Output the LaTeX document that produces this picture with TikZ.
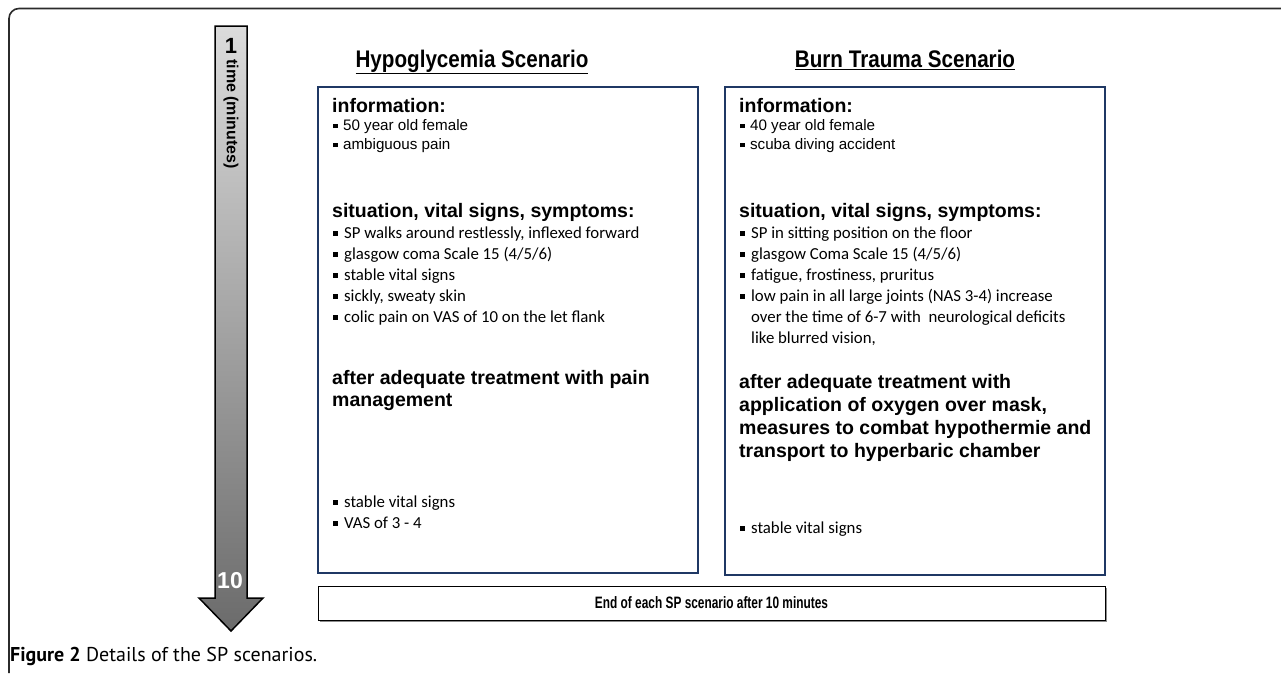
\documentclass[tikz,border=0pt]{standalone}
\usepackage{fontspec}
\setmainfont{Liberation Sans}
\newfontfamily\narrowbold[FakeStretch=0.86]{Liberation Sans Bold}
\newfontfamily\narrowboldx[FakeStretch=0.72]{Liberation Sans Bold}
\newfontfamily\calib{Carlito}
\newfontfamily\capfont{PT Sans}
\definecolor{boxblue}{HTML}{1F3864}
\definecolor{framegray}{HTML}{2B2B2B}
\newcommand{\bul}{\rule[0.12em]{0.3em}{0.3em}\hspace{0.35em}}
\tikzset{
  bhead/.style={anchor=base west, inner sep=0pt, font=\bfseries\fontsize{19.5}{22}\selectfont},
  aline/.style={anchor=base west, inner sep=0pt, font=\fontsize{15.2}{18}\selectfont},
  cline/.style={anchor=base west, inner sep=0pt, font=\calib\fontsize{16.8}{20}\selectfont},
  title/.style={inner sep=0pt, font=\narrowbold\fontsize{24}{26}\selectfont},
  scen/.style={draw=boxblue, line width=1.5pt, inner sep=0pt},
}
\begin{document}
\begin{tikzpicture}[x=1pt,y=-1pt]
\useasboundingbox (0,0) rectangle (1281,673);
% outer frame
\draw[framegray, line width=1.6pt, rounded corners=10pt] (9,673) -- (9,8.5) -- (1281,8.5);
% time arrow
\shade[top color=black!14, bottom color=black!58] (215,26) -- (247,26) -- (247,598) -- (263,598) -- (231,631) -- (199,598) -- (215,598) -- cycle;
\draw[black, line width=1.5pt, line join=miter] (215,26) -- (247,26) -- (247,598) -- (263,598) -- (231,631) -- (199,598) -- (215,598) -- cycle;
\node[inner sep=0pt, font=\bfseries\fontsize{22}{22}\selectfont] (one) at (231,46) {1};
\node[inner sep=0pt, rotate=-90, font=\bfseries\fontsize{16}{16}\selectfont] (tm) at (231,114) {time (minutes)};
\node[inner sep=0pt, text=white, font=\bfseries\fontsize{23}{23}\selectfont] (ten) at (230,581) {10};
% headings
\node[title] (h1) at (472,62) {\underline{Hypoglycemia Scenario}};
\node[title] (h2) at (905,60) {\underline{Burn Trauma Scenario}};
% boxes
\draw[scen] (318,87) rectangle (698,573);
\draw[scen] (725,87) rectangle (1105,575);
% left box text
\node[bhead] (l1) at (332,112) {information:};
\node[aline] (l2) at (333,130) {\bul 50 year old female};
\node[aline] (l3) at (333,149) {\bul ambiguous pain};
\node[bhead] (l4) at (332,217) {situation, vital signs, symptoms:};
\node[cline] (l5) at (333,238) {\bul SP walks around restlessly, inflexed forward};
\node[cline] (l6) at (333,259) {\bul glasgow coma Scale 15 (4/5/6)};
\node[cline] (l7) at (333,280) {\bul stable vital signs};
\node[cline] (l8) at (333,301) {\bul sickly, sweaty skin};
\node[cline] (l9) at (333,322) {\bul colic pain on VAS of 10 on the let flank};
\node[bhead] (l10) at (332,384) {after adequate treatment with pain};
\node[bhead] (l11) at (332,406) {management};
\node[cline] (l12) at (333,507) {\bul stable vital signs};
\node[cline] (l13) at (333,528) {\bul VAS of 3 - 4};
% right box text
\node[bhead] (r1) at (739,112) {information:};
\node[aline] (r2) at (740,130) {\bul 40 year old female};
\node[aline] (r3) at (740,149) {\bul scuba diving accident};
\node[bhead] (r4) at (739,217) {situation, vital signs, symptoms:};
\node[cline] (r5) at (740,238) {\bul SP in sitting position on the floor};
\node[cline] (r6) at (740,259) {\bul glasgow Coma Scale 15 (4/5/6)};
\node[cline] (r7) at (740,280) {\bul fatigue, frostiness, pruritus};
\node[cline] (r8) at (740,301) {\bul low pain in all large joints (NAS 3-4) increase};
\node[cline] (r9) at (751,322) {over the time of 6-7 with\ \ neurological deficits};
\node[cline] (r10) at (751,343) {like blurred vision,};
\node[bhead] (r11) at (739,388) {after adequate treatment with};
\node[bhead] (r12) at (739,411) {application of oxygen over mask,};
\node[bhead] (r13) at (739,434) {measures to combat hypothermie and};
\node[bhead] (r14) at (739,457) {transport to hyperbaric chamber};
\node[cline] (r15) at (740,533) {\bul stable vital signs};
% end box
\draw[black!45, line width=1.2pt] (319.5,621.5) -- (1106.5,621.5) -- (1106.5,587.5);
\node[draw=black, line width=0.9pt, minimum width=787pt, minimum height=34pt, inner sep=0pt,
      font=\narrowboldx\fontsize{16.5}{18}\selectfont] (endbox) at (711.5,603) {End of each SP scenario after 10 minutes};
% caption
\node[anchor=base west, inner sep=0pt, font=\capfont\fontsize{20}{21}\selectfont] (cap) at (10,661) {\textbf{Figure 2} Details of the SP scenarios.};
\end{tikzpicture}
\end{document}
